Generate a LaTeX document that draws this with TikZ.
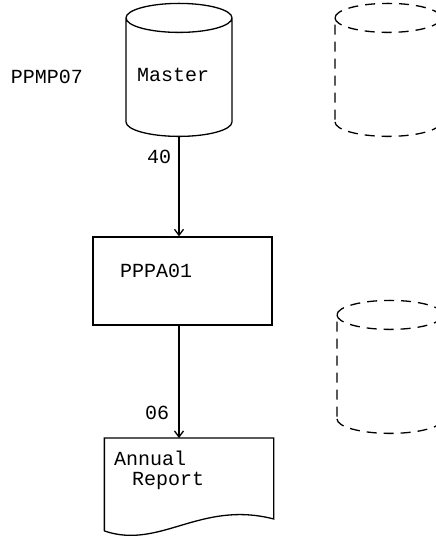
\documentclass[tikz,border=0pt]{standalone}
\usepackage{fontspec}
\setmonofont{Liberation Mono}
\usetikzlibrary{shapes.geometric,arrows.meta}
\begin{document}
\begin{tikzpicture}[
x=1pt,y=-1pt,
line width=1.3pt,
every node/.style={font=\ttfamily\fontsize{20}{20}\selectfont},
disk/.style={cylinder,shape border rotate=90,draw,aspect=0.32,text width=84pt,align=left,minimum width=106pt,minimum height=133pt},
ghost/.style={disk,dash pattern=on 10pt off 7pt},
flow/.style={-{Straight Barb[length=6pt,width=9pt]}}
]
\useasboundingbox (0,0) rectangle (436,538);
\node(prog) at (47,77){PPMP07};
\node(master)[disk,text depth=10pt] at (179,80){Master};
\node(g1)[ghost] at (388,80){};
\node(g2)[ghost] at (390,377){};
\node(box)[draw,minimum width=179pt,minimum height=88pt,text width=125pt,align=left,text depth=20pt] at (182.5,281){PPPA01};
\node(report)[minimum width=168pt,inner ysep=12pt,text width=150pt,align=left,anchor=north] at (189,438){Annual\\\hspace{18pt}Report};
% document outline with wavy bottom
\draw ([yshift=-29pt]report.south west)--(report.north west)--(report.north east)--([yshift=-17pt]report.south east)
  .. controls (200,500) and (160,550) .. ([yshift=-29pt]report.south west);
\draw[flow] (master.bottom)--node[left,pos=0.2,xshift=-4pt]{40}(master.bottom |- box.north);
\draw[flow] (master.bottom |- box.south)--node[left,pos=0.78,xshift=-6pt]{06}(master.bottom |- report.north);
\end{tikzpicture}
\end{document}
